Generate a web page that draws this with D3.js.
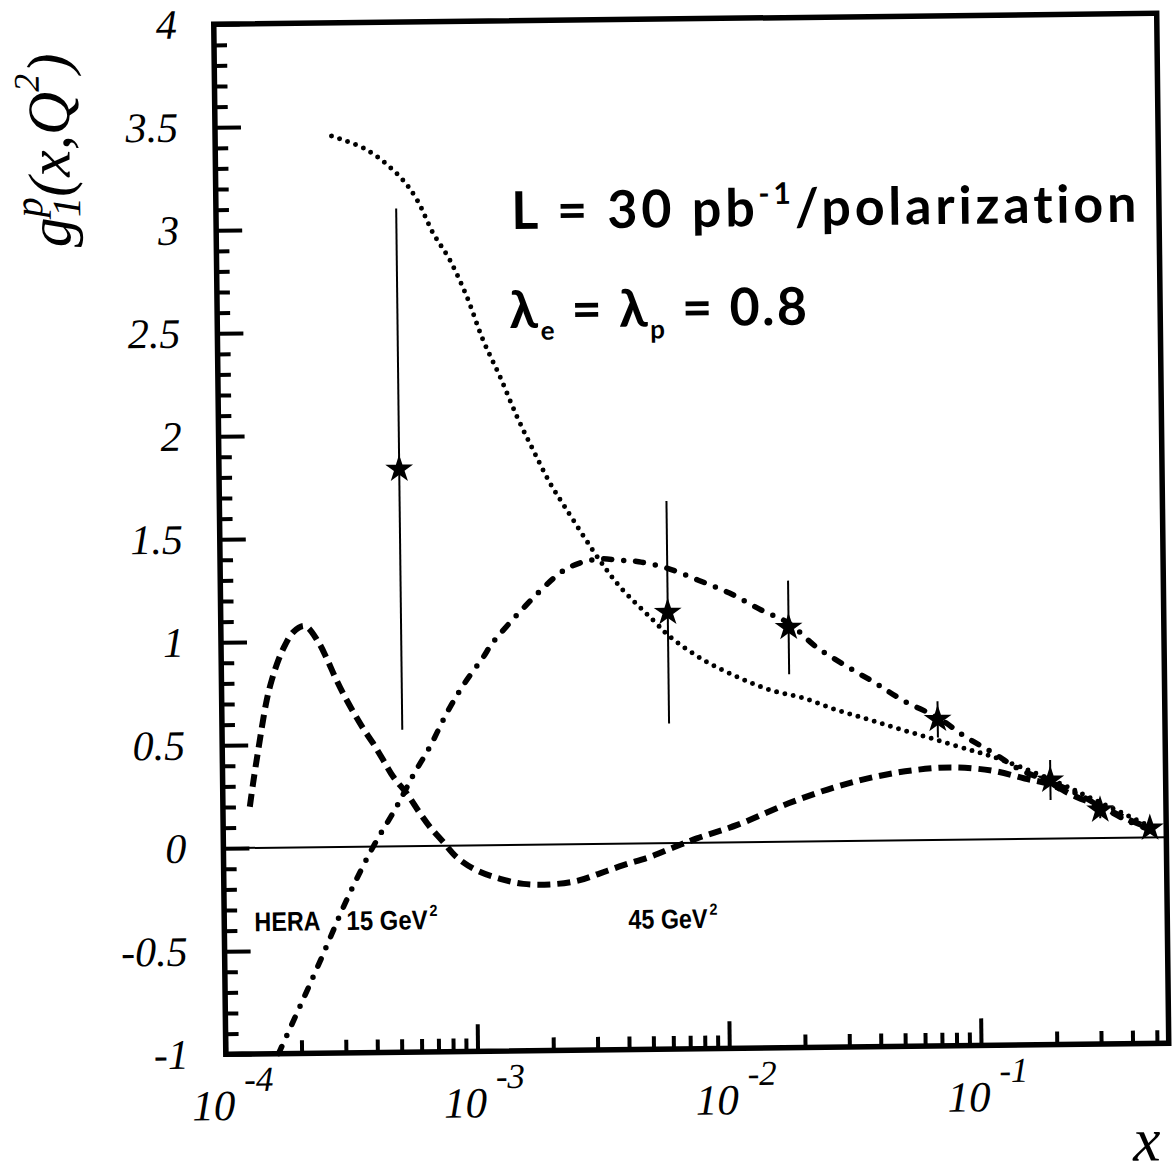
<!DOCTYPE html>
<html><head><meta charset="utf-8">
<script src="https://cdn.jsdelivr.net/npm/d3@7"></script>
<style>body{margin:0;background:#fff}</style>
</head><body>
<svg id="c" width="1176" height="1176"></svg>
<script>
// ---------- data ----------
const yTickValues = [-1,-0.5,0,0.5,1,1.5,2,2.5,3,3.5,4];
const yTickLabels = ["-1","-0.5","0","0.5","1","1.5","2","2.5","3","3.5","4"];
const xDecades = [1e-4,1e-3,1e-2,1e-1];
const xDecadeExponents = ["-4","-3","-2","-1"];

// dotted curve
const dottedX = [2.90e-4,4.01e-4,5.41e-4,6.30e-4,7.26e-4,8.45e-4,9.84e-4,1.135e-3,1.321e-3,1.538e-3,1.774e-3,2.061e-3,2.399e-3,3.214e-3,3.864e-3,5.21e-3,6.08e-3,8.22e-3,0.01114,0.0151,0.02042,0.02773,0.03758,0.0507,0.069,0.0935,0.1153,0.1972,0.308,0.484];
const dottedY = [3.451,3.381,3.248,3.136,2.975,2.842,2.662,2.452,2.272,2.076,1.915,1.754,1.622,1.378,1.247,1.083,1.001,0.887,0.804,0.737,0.696,0.636,0.586,0.535,0.485,0.434,0.40,0.284,0.170,0.052];

// dash-dotted curve
const dashDotX = [1.62e-4,1.95e-4,2.388e-4,3.112e-4,3.936e-4,4.898e-4,5.728e-4,6.683e-4,7.816e-4,9.141e-4,1.102e-3,1.208e-3,2.239e-3,2.685e-3,3.214e-3,3.846e-3,4.603e-3,5.929e-3,7.889e-3,0.01052,0.01403,0.01799,0.02312,0.03069,0.03954,0.0507,0.07,0.0897,0.1153,0.1483,0.1936,0.2449,0.3076,0.3899,0.4831];
const dashDotY = [-1.0,-0.790,-0.556,-0.243,-0.001,0.192,0.345,0.481,0.642,0.779,0.915,0.987,1.317,1.364,1.383,1.376,1.367,1.335,1.275,1.210,1.126,1.061,0.944,0.846,0.765,0.680,0.592,0.499,0.419,0.334,0.276,0.219,0.152,0.083,0.035];

// dashed curve
const dashedX = [1.279e-4,1.321e-4,1.39e-4,1.51e-4,1.585e-4,1.687e-4,1.795e-4,1.941e-4,2.158e-4,2.432e-4,2.624e-4,2.825e-4,3.041e-4,3.327e-4,3.639e-4,3.981e-4,4.355e-4,4.764e-4,5.383e-4,6.067e-4,6.637e-4,7.482e-4,8.433e-4,1.012e-3,1.253e-3,1.549e-3,1.977e-3,2.523e-3,3.126e-3,3.873e-3,4.943e-3,6.124e-3,7.603e-3,0.01102,0.01766,0.02723,0.03908,0.05598,0.08035,0.1151,0.1535,0.1932,0.2449,0.3076,0.3899,0.4831];
const dashedY = [0.200,0.313,0.475,0.717,0.814,0.910,0.982,1.046,1.074,0.997,0.916,0.826,0.744,0.655,0.573,0.500,0.419,0.337,0.255,0.158,0.091,0.017,-0.057,-0.122,-0.164,-0.190,-0.194,-0.179,-0.143,-0.105,-0.066,-0.022,0.021,0.084,0.186,0.263,0.310,0.340,0.351,0.332,0.293,0.263,0.202,0.152,0.091,0.043];

// data points (stars) with errors
const starX = [5.2e-4,5.97e-3,0.0180,0.0697,0.194,0.305,0.48];
const starY = [1.83,1.12,1.04,0.585,0.284,0.136,0.045];
const starErr = [1.265,0.54,0.227,0.088,0.097,0.04,0];

// ---------- layout ----------
const W = 1176, H = 1176;
const L = 219.75, R = 1162.75, T = 18.75, B = 1048.75;
const svg = d3.select("#c");
svg.append("rect").attr("width",W).attr("height",H).attr("fill","#fff");
const g = svg.append("g").attr("transform","rotate(-0.67 691.25 533.75)");

const x = d3.scaleLog().domain([1e-4,0.557]).range([L,R]);
const y = d3.scaleLinear().domain([-1,4]).range([B,T]);

// minor ticks
const xMinor = [];
xDecades.forEach(d => { for (let k=2;k<=9;k++){ const v=d*k; if (v<=0.557) xMinor.push(v);} });
const yMinor = d3.range(-10,41).map(i=>i/10).filter(v=>Math.abs(v*2-Math.round(v*2))>1e-6);

const tickStyle = sel => { sel.select(".domain").remove(); sel.selectAll(".tick line").attr("stroke","#000").attr("stroke-width",4); sel.selectAll(".tick text").remove(); };

g.append("g").attr("transform",`translate(0,${B})`)
  .call(d3.axisBottom(x).tickValues(xMinor).tickSize(-13).tickFormat(""))
  .call(tickStyle);
g.append("g").attr("transform",`translate(0,${B})`)
  .call(d3.axisBottom(x).tickValues(xDecades).tickSize(-27).tickFormat(""))
  .call(tickStyle);
g.append("g").attr("transform",`translate(${L},0)`)
  .call(d3.axisLeft(y).tickValues(yMinor).tickSize(-13).tickFormat(""))
  .call(tickStyle);
g.append("g").attr("transform",`translate(${L},0)`)
  .call(d3.axisLeft(y).tickValues(yTickValues).tickSize(-26).tickFormat(""))
  .call(tickStyle);

// zero line
g.append("line").attr("x1",L).attr("x2",R).attr("y1",y(0)).attr("y2",y(0))
  .attr("stroke","#000").attr("stroke-width",2);

// frame
g.append("rect").attr("x",L).attr("y",T).attr("width",R-L).attr("height",B-T)
  .attr("fill","none").attr("stroke","#000").attr("stroke-width",5.5);

// y tick labels
const serif = "'Liberation Serif','Times New Roman',serif";
g.selectAll(".ylab").data(yTickValues).join("text")
  .attr("x",L-37).attr("y",v=>y(v)+14)
  .attr("text-anchor","end").attr("font-family",serif).attr("font-style","italic")
  .attr("font-size",42).text((v,i)=>yTickLabels[i]);

// x tick labels
xDecades.forEach((d,i)=>{
  const t = g.append("text").attr("x",x(d)-34).attr("y",B+66)
    .attr("font-family",serif).attr("font-style","italic");
  t.append("tspan").attr("font-size",43).text("10");
  t.append("tspan").attr("font-size",35).attr("dx",9).attr("dy",-29).text(xDecadeExponents[i]);
});

// axis titles
g.append("text").attr("x",1126).attr("y",1166).attr("font-family",serif)
  .attr("font-style","italic").attr("font-size",62).text("x");

const yt = g.append("text").attr("transform","translate(74,240) rotate(-90)")
  .attr("font-family",serif).attr("font-style","italic").attr("font-size",60);
yt.append("tspan").text("g");
yt.append("tspan").attr("font-size",40).attr("dy",10).text("1");
yt.append("tspan").attr("font-size",40).attr("dx",-20).attr("dy",-38).text("p");
yt.append("tspan").attr("dy",28).text("(x,Q");
yt.append("tspan").attr("font-size",36).attr("dy",-30).text("2");
yt.append("tspan").attr("dy",30).text(")");
(function(){ const w = yt.node().getComputedTextLength(); const target = 214; if (w < target) yt.attr("letter-spacing",(target-w)/9); })();

// curves
const line = d3.line().x(d=>x(d[0])).y(d=>y(d[1])).curve(d3.curveCatmullRom.alpha(0.5));
const zip = (a,b)=>a.map((v,i)=>[v,b[i]]);
g.append("path").attr("d",line(zip(dottedX,dottedY))).attr("fill","none")
  .attr("stroke","#000").attr("stroke-width",5).attr("stroke-linecap","round")
  .attr("stroke-dasharray","0 8.5");
g.append("path").attr("d",line(zip(dashDotX,dashDotY))).attr("fill","none")
  .attr("stroke","#000").attr("stroke-width",5.5).attr("stroke-linecap","round")
  .attr("stroke-dasharray","8 12 0 12");
g.append("path").attr("d",line(zip(dashedX,dashedY))).attr("fill","none")
  .attr("stroke","#000").attr("stroke-width",6)
  .attr("stroke-dasharray","13 7");

// error bars and stars
g.selectAll(".err").data(starX).join("line")
  .attr("x1",d=>x(d)).attr("x2",d=>x(d))
  .attr("y1",(d,i)=>y(starY[i]-starErr[i])).attr("y2",(d,i)=>y(starY[i]+starErr[i]))
  .attr("stroke","#000").attr("stroke-width",2);
g.selectAll(".star").data(starX).join("path")
  .attr("transform",(d,i)=>`translate(${x(d)},${y(starY[i])})`)
  .attr("d",d3.symbol().type(d3.symbolStar).size(240)).attr("fill","#000");

// annotations
const sans = "Lato,'DejaVu Sans',sans-serif";
function spread(t, target, n){ const w=t.node().getComputedTextLength(); if (w<target) t.attr("letter-spacing",(target-w)/n); }
const a1 = g.append("text").attr("x",515).attr("y",227).attr("font-family",sans)
  .attr("font-weight",700).attr("font-size",52);
a1.append("tspan").text("L = 30 pb");
a1.append("tspan").attr("font-size",30).attr("dy",-22).text("-1");
a1.append("tspan").attr("dy",22).text("/polarization");
spread(a1, 630, 24);

const a2 = g.append("text").attr("x",512).attr("y",326).attr("font-family",sans)
  .attr("font-weight",700).attr("font-size",52);
a2.append("tspan").text("λ");
a2.append("tspan").attr("font-size",26).attr("dy",12).text("e");
a2.append("tspan").attr("dy",-12).text(" = λ");
a2.append("tspan").attr("font-size",26).attr("dy",12).text("p");
a2.append("tspan").attr("dy",-12).text(" = 0.8");
spread(a2, 300, 13);

// small HERA labels, condensed horizontally to their measured widths
const narrow = "'Liberation Sans Narrow','Liberation Sans',Arial,sans-serif";
function small(txt, xx, yy, len, fs){
  const t = g.append("text").attr("font-family",narrow).attr("font-weight",700)
    .attr("font-size",fs).text(txt);
  const w = t.node().getComputedTextLength();
  t.attr("transform",`translate(${xx},${yy}) scale(${len/w},1)`);
  return t;
}
small("HERA",250,926,66,27);
small("15 GeV",342,926,81,27);
small("2",425,913,8,16);
small("45 GeV",624,928,79,27);
small("2",705,915,8,16);
</script>
</body></html>
